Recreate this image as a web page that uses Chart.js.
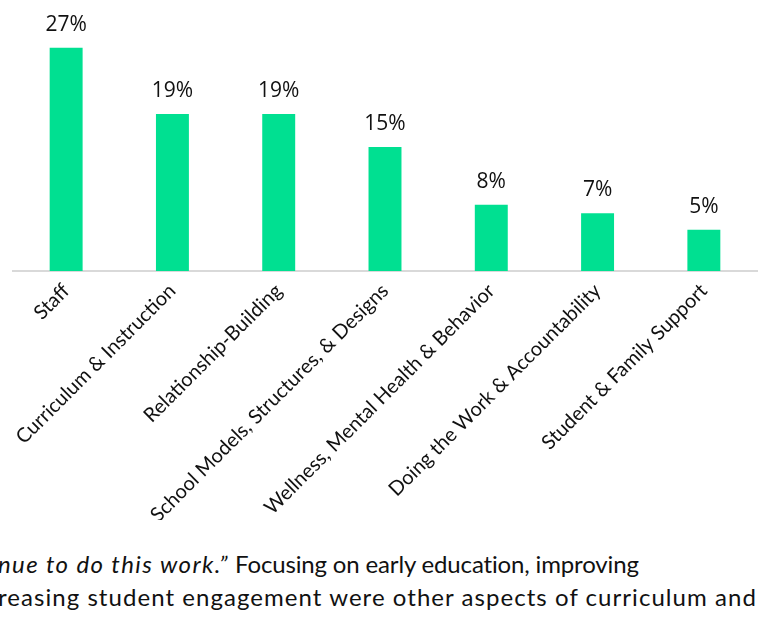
<!DOCTYPE html>
<html>
<head>
<meta charset="utf-8">
<script src="https://cdn.jsdelivr.net/npm/chart.js@4/dist/chart.umd.min.js"></script>
<style>
  body { margin: 0; background: #fff; width: 760px; height: 622px; overflow: hidden; position: relative; }
  #wrap { position: absolute; left: 0; top: 0; width: 760px; height: 520px; }
  .body-text {
    position: absolute; left: -2px; white-space: nowrap;
    font-family: Lato, "Open Sans", sans-serif; font-size: 24px; color: #111;
  }
  .body-text i { letter-spacing: 1.4px; }
</style>
</head>
<body>
<div id="wrap"><canvas id="barChart" width="760" height="520"></canvas></div>
<div class="body-text" style="top:549px; letter-spacing:-0.15px"><i>nue to do this work.”</i> Focusing on early education, improving</div>
<div class="body-text" style="top:582px; letter-spacing:1.05px">reasing student engagement were other aspects of curriculum and</div>
<script>
const categories = [
    "Staff",
    "Curriculum & Instruction",
    "Relationship-Building",
    "School Models, Structures, & Designs",
    "Wellness, Mental Health & Behavior",
    "Doing the Work & Accountability",
    "Student & Family Support"
];
const shares = [27, 19, 19, 15, 8, 7, 5];
const barColor = "#00e091";

// draws the "27%" style labels above each bar
const valueLabels = {
    id: "valueLabels",
    afterDatasetsDraw(chart) {
        const ctx = chart.ctx;
        const meta = chart.getDatasetMeta(0);
        ctx.save();
        ctx.font = "21px 'Open Sans', sans-serif";
        ctx.fillStyle = "#111";
        ctx.textAlign = "center";
        ctx.textBaseline = "alphabetic";
        meta.data.forEach((bar, i) => {
            ctx.fillText(shares[i] + "%", bar.x, bar.y - 17);
        });
        ctx.restore();
    }
};

const ctx = document.getElementById("barChart");
const barChart = new Chart(ctx, {
    type: "bar",
    data: {
        labels: categories,
        datasets: [{
            data: shares,
            backgroundColor: barColor,
            barPercentage: 0.31,
            categoryPercentage: 1
        }]
    },
    plugins: [valueLabels],
    options: {
        responsive: false,
        animation: false,
        layout: { padding: { left: 13, right: 3, top: 23, bottom: 0 } },
        plugins: {
            legend: { display: false },
            tooltip: { enabled: false }
        },
        scales: {
            y: {
                display: false,
                min: 0,
                max: 30
            },
            x: {
                grid: { display: false },
                border: { display: true, color: "#d9d9d9", width: 2 },
                ticks: {
                    maxRotation: 45,
                    minRotation: 45,
                    padding: 0,
                    color: "#111",
                    font: { family: "Lato, 'Open Sans', sans-serif", size: 20 }
                },
                afterFit(scale) {
                    scale.height = 249;
                }
            }
        }
    }
});
</script>
</body>
</html>
